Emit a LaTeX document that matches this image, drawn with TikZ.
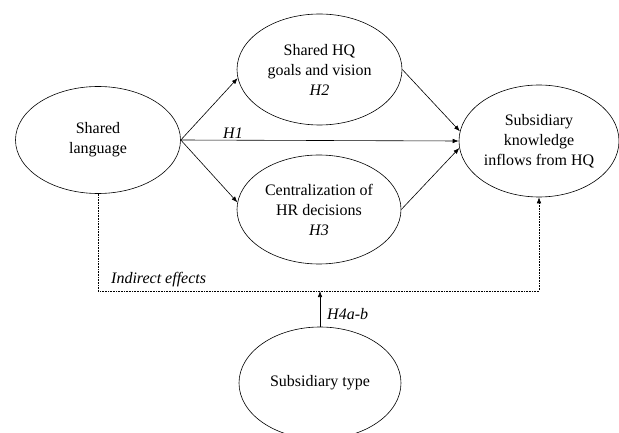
\documentclass[tikz,border=0pt]{standalone}
\usepackage{fontspec}
\setmainfont{Liberation Serif}
\usetikzlibrary{shapes.geometric,arrows.meta}
\begin{document}
\begin{tikzpicture}[x=1pt,y=-1pt,
  oval/.style={draw,ellipse,inner sep=0pt,line width=0.6pt,align=center,
    font=\fontsize{16}{20}\selectfont},
  arr/.style={line width=0.6pt,-{Latex[length=6pt,width=4.5pt]}},
  lbl/.style={font=\fontsize{16}{20}\selectfont\itshape,inner sep=0pt}]
\useasboundingbox (0,0) rectangle (619,433);
\begin{scope}
\clip (0,0) rectangle (619,433);
\node[oval,minimum width=165pt,minimum height=107pt] (lang) at (98,140) {Shared\\language};
\node[oval,minimum width=165pt,minimum height=111pt] (goals) at (319.5,69.5) {Shared HQ\\goals and vision\\\textit{H2}};
\node[oval,minimum width=164pt,minimum height=109pt] (cent) at (319,209.5) {Centralization of\\HR decisions\\\textit{H3}};
\node[oval,minimum width=160pt,minimum height=112pt] (know) at (539,141) {Subsidiary\\knowledge\\inflows from HQ};
\node[oval,minimum width=162pt,minimum height=112pt] (sub) at (320,383) {Subsidiary type};
\coordinate (m) at (320,291);
\draw[arr] (lang.east) -- (goals.186);
\draw[arr] (lang.east) -- (cent.175);
\draw[arr] (lang.east) -- (know.west);
\draw[arr] (goals.east) -- (know.173);
\draw[arr] (cent.east) -- (know.185);
\draw[arr,densely dotted] (lang.south) |- (m) -| (know.south);
\draw[arr] (sub.north) -- (m);
\node[lbl] (h1) at (233,133) {H1};
\node[lbl,anchor=west] (ind) at (111,280) {Indirect effects};
\node[lbl,anchor=west] (h4) at (327,314) {H4a-b};
\end{scope}
\end{tikzpicture}
\end{document}
